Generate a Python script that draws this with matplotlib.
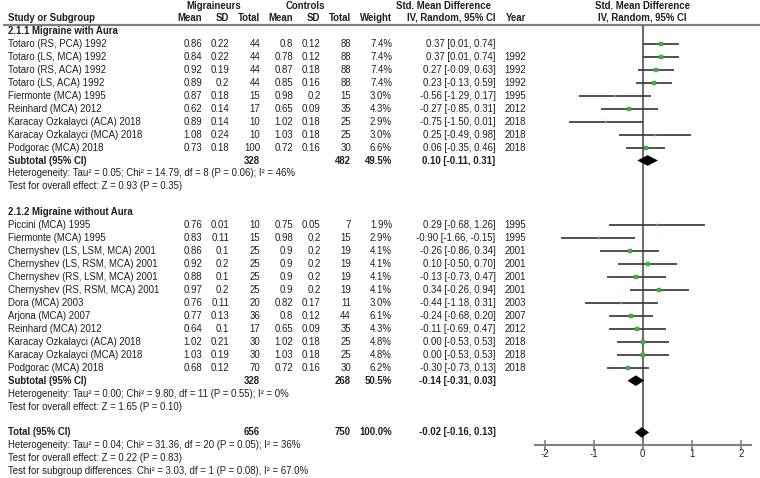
import matplotlib
matplotlib.use("Agg")
import matplotlib.pyplot as plt
import numpy as np

plt.rcParams['font.family'] = ['Liberation Sans', 'DejaVu Sans']

# ---------------- data ----------------
g1_names = ["Totaro (RS, PCA) 1992", "Totaro (LS, MCA) 1992", "Totaro (RS, ACA) 1992",
            "Totaro (LS, ACA) 1992", "Fiermonte (MCA) 1995", "Reinhard (MCA) 2012",
            "Karacay Ozkalayci (ACA) 2018", "Karacay Ozkalayci (MCA) 2018", "Podgorac (MCA) 2018"]
g1_mig_mean = [0.86, 0.84, 0.92, 0.89, 0.87, 0.62, 0.89, 1.08, 0.73]
g1_mig_sd = [0.22, 0.22, 0.19, 0.2, 0.18, 0.14, 0.14, 0.24, 0.18]
g1_mig_n = [44, 44, 44, 44, 15, 17, 10, 10, 100]
g1_ctl_mean = [0.8, 0.78, 0.87, 0.85, 0.98, 0.65, 1.02, 1.03, 0.72]
g1_ctl_sd = [0.12, 0.12, 0.18, 0.16, 0.2, 0.09, 0.18, 0.18, 0.16]
g1_ctl_n = [88, 88, 88, 88, 15, 35, 25, 25, 30]
g1_weight = [7.4, 7.4, 7.4, 7.4, 3.0, 4.3, 2.9, 3.0, 6.6]
g1_smd = [0.37, 0.37, 0.27, 0.23, -0.56, -0.27, -0.75, 0.25, 0.06]
g1_lo = [0.01, 0.01, -0.09, -0.13, -1.29, -0.85, -1.50, -0.49, -0.35]
g1_hi = [0.74, 0.74, 0.63, 0.59, 0.17, 0.31, 0.01, 0.98, 0.46]
g1_year = ["", "1992", "1992", "1992", "1995", "2012", "2018", "2018", "2018"]
g1_sub = dict(mig_n=328, ctl_n=482, weight=49.5, smd=0.10, lo=-0.11, hi=0.31)
g1_het = "Heterogeneity: Tau\u00b2 = 0.05; Chi\u00b2 = 14.79, df = 8 (P = 0.06); I\u00b2 = 46%"
g1_test = "Test for overall effect: Z = 0.93 (P = 0.35)"

g2_names = ["Piccini (MCA) 1995", "Fiermonte (MCA) 1995", "Chernyshev (LS, LSM, MCA) 2001",
            "Chernyshev (LS, RSM, MCA) 2001", "Chernyshev (RS, LSM, MCA) 2001",
            "Chernyshev (RS, RSM, MCA) 2001", "Dora (MCA) 2003", "Arjona (MCA) 2007",
            "Reinhard (MCA) 2012", "Karacay Ozkalayci (ACA) 2018",
            "Karacay Ozkalayci (MCA) 2018", "Podgorac (MCA) 2018"]
g2_mig_mean = [0.76, 0.83, 0.86, 0.92, 0.88, 0.97, 0.76, 0.77, 0.64, 1.02, 1.03, 0.68]
g2_mig_sd = [0.01, 0.11, 0.1, 0.2, 0.1, 0.2, 0.11, 0.13, 0.1, 0.21, 0.19, 0.12]
g2_mig_n = [10, 15, 25, 25, 25, 25, 20, 36, 17, 30, 30, 70]
g2_ctl_mean = [0.75, 0.98, 0.9, 0.9, 0.9, 0.9, 0.82, 0.8, 0.65, 1.02, 1.03, 0.72]
g2_ctl_sd = [0.05, 0.2, 0.2, 0.2, 0.2, 0.2, 0.17, 0.12, 0.09, 0.18, 0.18, 0.16]
g2_ctl_n = [7, 15, 19, 19, 19, 19, 11, 44, 35, 25, 25, 30]
g2_weight = [1.9, 2.9, 4.1, 4.1, 4.1, 4.1, 3.0, 6.1, 4.3, 4.8, 4.8, 6.2]
g2_smd = [0.29, -0.90, -0.26, 0.10, -0.13, 0.34, -0.44, -0.24, -0.11, 0.00, 0.00, -0.30]
g2_lo = [-0.68, -1.66, -0.86, -0.50, -0.73, -0.26, -1.18, -0.68, -0.69, -0.53, -0.53, -0.73]
g2_hi = [1.26, -0.15, 0.34, 0.70, 0.47, 0.94, 0.31, 0.20, 0.47, 0.53, 0.53, 0.13]
g2_year = ["1995", "1995", "2001", "2001", "2001", "2001", "2003", "2007", "2012", "2018", "2018", "2018"]
g2_sub = dict(mig_n=328, ctl_n=268, weight=50.5, smd=-0.14, lo=-0.31, hi=0.03)
g2_het = "Heterogeneity: Tau\u00b2 = 0.00; Chi\u00b2 = 9.80, df = 11 (P = 0.55); I\u00b2 = 0%"
g2_test = "Test for overall effect: Z = 1.65 (P = 0.10)"

total = dict(mig_n=656, ctl_n=750, weight=100.0, smd=-0.02, lo=-0.16, hi=0.13)
total_het = "Heterogeneity: Tau\u00b2 = 0.04; Chi\u00b2 = 31.36, df = 20 (P = 0.05); I\u00b2 = 36%"
total_test = "Test for overall effect: Z = 0.22 (P = 0.83)"
subgroup_test = "Test for subgroup differences: Chi\u00b2 = 3.03, df = 1 (P = 0.08), I\u00b2 = 67.0%"

group_titles = ["2.1.1 Migraine with Aura", "2.1.2 Migraine without Aura"]
xticks = [-2, -1, 0, 1, 2]

# ---------------- layout ----------------
W, H = 760, 478
FS = 6.95
TXT = '#1e1e1e'
GREEN = '#3cb43c'
fig = plt.figure(figsize=(W / 100, H / 100), dpi=100)
tab = fig.add_axes([0, 0, 1, 1])
tab.set_xlim(0, W)
tab.set_ylim(H, 0)
tab.axis('off')

ROW0 = 31.0
STEP = 12.95
def rowy(i):
    return ROW0 + STEP * i

# column right edges (pixels)
X_LABEL = 8
X_MM, X_MSD, X_MN = 202, 229.5, 260
X_CM, X_CSD, X_CN = 293, 320.5, 351
X_W, X_CI, X_YR = 392, 495.5, 526

def t(x, y, s, ha='left', bold=False, **kw):
    tab.text(x, y, s, ha=ha, va='center', fontsize=FS, color=TXT,
             fontweight='bold' if bold else 'normal', **kw)

def fmt_ci(m, lo, hi):
    return f"{m:.2f} [{lo:.2f}, {hi:.2f}]"

# headers
t(214, 5.5, "Migraineurs", ha='center', bold=True)
t(305, 5.5, "Controls", ha='center', bold=True)
t(444, 5.5, "Std. Mean Difference", ha='center', bold=True)
t(642.7, 5.5, "Std. Mean Difference", ha='center', bold=True)
y_h2 = 17.5
t(X_LABEL, y_h2, "Study or Subgroup", bold=True)
for x, s in [(X_MM, "Mean"), (X_MSD, "SD"), (X_MN, "Total"), (X_CM, "Mean"),
             (X_CSD, "SD"), (X_CN, "Total"), (X_W, "Weight"),
             (X_CI, "IV, Random, 95% CI"), (X_YR, "Year")]:
    t(x, y_h2, s, ha='right', bold=True)
t(642.7, y_h2, "IV, Random, 95% CI", ha='center', bold=True)
tab.plot([3, W], [24.5, 24.5], color='#808080', lw=1.6, solid_capstyle='butt')

# forest axes
AX_L, AX_R = 534.7, 750.7
AX_TOP, AX_BOT = 24.5, 444.5
XL = (-2.2, 2.2)
fa = fig.add_axes([AX_L / W, (H - AX_BOT) / H, (AX_R - AX_L) / W, (AX_BOT - AX_TOP) / H])
fa.set_xlim(*XL)
fa.set_ylim(AX_BOT, AX_TOP)
fa.patch.set_alpha(0)
for s in ['top', 'left', 'right']:
    fa.spines[s].set_visible(False)
fa.spines['bottom'].set_color('#808080')
fa.spines['bottom'].set_linewidth(1.5)
fa.set_yticks([])
fa.set_xticks(xticks)
fa.set_xticklabels([str(v) for v in xticks], fontsize=FS, color=TXT)
fa.tick_params(axis='x', direction='inout', length=7, width=1.2, color='#808080', pad=0)
fa.axvline(0, color='#505050', lw=1.2, zorder=1)

def diamond(y, m, lo, hi, h=5.3):
    fa.fill([lo, m, hi, m], [y, y - h, y, y + h], color='black', zorder=4, lw=0)

def group(start, title, names, mm, msd, mn, cm, csd, cn, w, smd, lo, hi, yr, sub, het, test):
    r = start
    t(X_LABEL, rowy(r), title, bold=True)
    r += 1
    for i in range(len(names)):
        y = rowy(r)
        t(X_LABEL, y, names[i])
        t(X_MM, y, f"{mm[i]:g}", ha='right')
        t(X_MSD, y, f"{msd[i]:g}", ha='right')
        t(X_MN, y, f"{mn[i]}", ha='right')
        t(X_CM, y, f"{cm[i]:g}", ha='right')
        t(X_CSD, y, f"{csd[i]:g}", ha='right')
        t(X_CN, y, f"{cn[i]}", ha='right')
        t(X_W, y, f"{w[i]:.1f}%", ha='right')
        t(X_CI, y, fmt_ci(smd[i], lo[i], hi[i]), ha='right')
        t(X_YR, y, yr[i], ha='right')
        fa.plot([lo[i], hi[i]], [y, y], color='#3a3a3a', lw=1.25, zorder=2, solid_capstyle='butt')
        side_px = 1.0 + 1.0 * np.sqrt(w[i])
        fa.plot([smd[i]], [y], marker='s', ms=side_px * 0.72, color=GREEN, mec=GREEN,
                mew=0.3, zorder=3, ls='none')
        r += 1
    y = rowy(r)
    t(X_LABEL, y, "Subtotal (95% CI)", bold=True)
    t(X_MN, y, f"{sub['mig_n']}", ha='right', bold=True)
    t(X_CN, y, f"{sub['ctl_n']}", ha='right', bold=True)
    t(X_W, y, f"{sub['weight']:.1f}%", ha='right', bold=True)
    t(X_CI, y, fmt_ci(sub['smd'], sub['lo'], sub['hi']), ha='right', bold=True)
    diamond(y, sub['smd'], sub['lo'], sub['hi'])
    r += 1
    t(X_LABEL, rowy(r), het)
    r += 1
    t(X_LABEL, rowy(r), test)
    r += 2
    return r

r = group(0, group_titles[0], g1_names, g1_mig_mean, g1_mig_sd, g1_mig_n, g1_ctl_mean,
          g1_ctl_sd, g1_ctl_n, g1_weight, g1_smd, g1_lo, g1_hi, g1_year, g1_sub, g1_het, g1_test)
r = group(r, group_titles[1], g2_names, g2_mig_mean, g2_mig_sd, g2_mig_n, g2_ctl_mean,
          g2_ctl_sd, g2_ctl_n, g2_weight, g2_smd, g2_lo, g2_hi, g2_year, g2_sub, g2_het, g2_test)

y = rowy(r)
t(X_LABEL, y, "Total (95% CI)", bold=True)
t(X_MN, y, f"{total['mig_n']}", ha='right', bold=True)
t(X_CN, y, f"{total['ctl_n']}", ha='right', bold=True)
t(X_W, y, f"{total['weight']:.1f}%", ha='right', bold=True)
t(X_CI, y, fmt_ci(total['smd'], total['lo'], total['hi']), ha='right', bold=True)
diamond(y, total['smd'], total['lo'], total['hi'])
t(X_LABEL, rowy(r + 1), total_het)
t(X_LABEL, rowy(r + 2), total_test)
t(X_LABEL, rowy(r + 3), subgroup_test)

fig.savefig("out.png", dpi=100, facecolor='white')
